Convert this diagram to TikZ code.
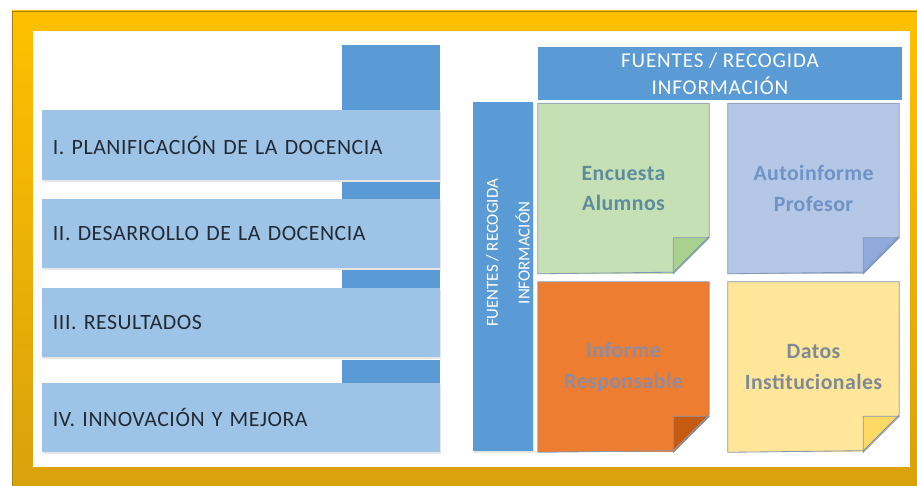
\documentclass[tikz,border=0pt]{standalone}
\usepackage{fontspec}
\setmainfont{Carlito}
\newfontfamily\stagefont[LetterSpace=2.5]{Carlito}
\newfontfamily\bandfont[LetterSpace=4]{Carlito}
\newfontfamily\notefont[LetterSpace=2]{Carlito}
\usetikzlibrary{shadows}

\definecolor{frametop}{HTML}{FFC000}
\definecolor{framebot}{HTML}{D9A20C}
\definecolor{stageblue}{HTML}{9DC3E6}
\definecolor{tabblue}{HTML}{5B9BD5}
\definecolor{stagetext}{HTML}{222A35}
\definecolor{noteedge}{HTML}{8497B0}
\definecolor{encfill}{HTML}{C5E0B4}
\definecolor{encfold}{HTML}{A9D18E}
\definecolor{enctext}{HTML}{5E8C9E}
\definecolor{autofill}{HTML}{B4C7E7}
\definecolor{autofold}{HTML}{8FAADC}
\definecolor{autotext}{HTML}{6F93C4}
\definecolor{inffill}{HTML}{ED7D31}
\definecolor{inffold}{HTML}{C55A11}
\definecolor{inftext}{HTML}{8E8CA3}
\definecolor{datfill}{HTML}{FFE699}
\definecolor{datfold}{HTML}{FFD966}
\definecolor{dattext}{HTML}{7F8A96}

\begin{document}
\begin{tikzpicture} [
  x=0.025cm, y=-0.025cm,
  stage/.style= {rectangle,fill=stageblue,text=stagetext,text width=9.4cm,align=left,
    inner xsep=0.275cm,minimum height=1.73cm,
    font=\stagefont\fontsize{15.5}{18}\selectfont,
    drop shadow={shadow xshift=0.5pt,shadow yshift=-1.5pt,opacity=0.2}},
  band/.style= {rectangle,fill=tabblue,text=white,align=center},
  note/.style= {rectangle,minimum width=4.275cm,minimum height=4.25cm,align=center,
    font=\notefont\bfseries\fontsize{15.5}{22}\selectfont},
]
\useasboundingbox (0,0) rectangle (917,486);
% frame
\shade [top color=frametop,bottom color=framebot] (12,11) rectangle (917,486);
\draw [framebot!80!black,line width=0.4pt] (12,486) -- (12,11) -- (917,11);
\fill [white] (33,31) rectangle (910,467);

% left column
\fill [tabblue] (342,45) rectangle (440,110);
\fill [tabblue] (342,182) rectangle (440,199);
\fill [tabblue] (342,270) rectangle (440,288);
\fill [tabblue] (342,360) rectangle (440,383);
\node (s1) [stage] at (241,145) {I. PLANIFICACIÓN DE LA DOCENCIA};
\node (s2) [stage] at (241,233.5) {II. DESARROLLO DE LA DOCENCIA};
\node (s3) [stage] at (241,322.5) {III. RESULTADOS};
\node (s4) [stage] at (241,417.5) {IV. INNOVACIÓN Y MEJORA};

% sources
\node (top) [band,minimum width=9.1cm,minimum height=1.325cm,
  font=\bandfont\fontsize{15}{19}\selectfont] at (720,73.5) {FUENTES / RECOGIDA\\INFORMACIÓN};
\node (side) [band,minimum width=1.5cm,minimum height=8.725cm,
  drop shadow={shadow xshift=0.5pt,shadow yshift=-1.5pt,opacity=0.2}] at (503,276.5) {};
\node (sidetext) [text=white,align=center,rotate=90,
  font=\fontsize{12}{22.5}\selectfont] at (508,253) {FUENTES / RECOGIDA\\INFORMACIÓN};

\node (enc) [note,fill=encfill,text=enctext] at (623.5,188.5) {Encuesta\\Alumnos};
\node (auto) [note,fill=autofill,text=autotext] at (813.5,188.5) {Autoinforme\\Profesor};
\node (inf) [note,fill=inffill,text=inftext] at (623.5,367) {Informe\\Responsable};
\node (dat) [note,fill=datfill,text=dattext] at (813.5,367) {Datos\\Institucionales};

% folded corners
\foreach \n/\fc in {enc/encfold,auto/autofold,inf/inffold,dat/datfold} {
  \fill [white] (\n.south east) -- ++(-36,0) -- ++(36,-36) -- cycle;
  \filldraw [fill=\fc,draw=noteedge,line width=0.6pt] (\n.south east) ++(-36,0) -- ++(0,-36) -- ++(36,0) -- cycle;
  \draw [noteedge,line width=0.6pt] (\n.north west) -- (\n.north east) -- ++(0,133) -- ++(-36,36)
    -- (\n.south west) -- cycle;
}
\end{tikzpicture}
\end{document}
